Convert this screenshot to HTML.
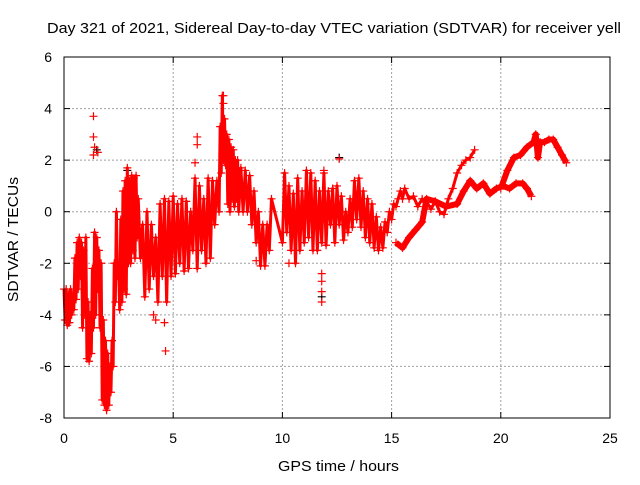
<!DOCTYPE html>
<html><head><meta charset="utf-8"><style>
body{margin:0;background:#fff;}
svg{font-family:"Liberation Sans",sans-serif;}
</style></head><body>
<svg id="chart" width="640" height="480" xmlns="http://www.w3.org/2000/svg">
<text x="47" y="33" font-size="15" textLength="574" lengthAdjust="spacingAndGlyphs">Day 321 of 2021, Sidereal Day-to-day VTEC variation (SDTVAR) for receiver yell</text>
<text x="278" y="471" font-size="15" textLength="121" lengthAdjust="spacingAndGlyphs">GPS time / hours</text>
<text transform="translate(18,302) rotate(-90)" font-size="15" textLength="125" lengthAdjust="spacingAndGlyphs">SDTVAR / TECUs</text>
<g id="grid"></g><g id="ticks"></g><g id="marks"></g>
<rect x="64" y="57" width="546" height="361" fill="none" stroke="#000" stroke-width="1"/>
</svg>
<script>
const xTicks=[0,5,10,15,20,25];
const yTicks=[-8,-6,-4,-2,0,2,4,6];
// main trace 0-15 h
const redT=[0,0.05,0.1,0.15,0.2,0.25,0.3,0.35,0.4,0.45,0.5,0.55,0.6,0.65,0.7,0.75,0.8,0.85,0.9,0.95,1.0,1.05,1.1,1.15,1.2,1.25,1.3,1.35,1.4,1.45,1.5,1.55,1.6,1.65,1.7,1.75,1.8,1.85,1.9,1.95,2.0,2.05,2.1,2.15,2.2,2.25,2.3,2.35,2.4,2.45,2.5,2.55,2.6,2.65,2.7,2.75,2.8,2.85,2.9,2.95,3.0,3.05,3.1,3.15,3.2,3.25,3.3,3.35,3.4,3.5,3.6,3.7,3.8,3.9,4.0,4.1,4.2,4.3,4.4,4.5,4.6,4.7,4.8,4.9,5.0,5.1,5.2,5.3,5.4,5.5,5.6,5.7,5.8,5.9,6.0,6.1,6.2,6.3,6.4,6.5,6.6,6.7,6.8,6.9,7.0,7.1,7.15,7.2,7.25,7.3,7.35,7.4,7.45,7.5,7.55,7.6,7.65,7.7,7.75,7.8,7.85,7.9,7.95,8.0,8.1,8.2,8.3,8.4,8.5,8.6,8.7,8.8,8.9,9.0,9.1,9.2,9.3,9.4,9.5,10.0,10.1,10.2,10.3,10.4,10.5,10.6,10.7,10.8,10.9,11.0,11.1,11.2,11.3,11.4,11.5,11.6,11.7,11.8,11.9,12.0,12.1,12.2,12.3,12.4,12.5,12.6,12.7,12.8,12.9,13.0,13.1,13.2,13.3,13.4,13.5,13.6,13.7,13.8,13.9,14.0,14.1,14.2,14.3,14.4,14.5,14.6,14.7,14.8,14.9,15.0,15.1,15.2,15.3,15.4,15.5,15.6,15.8,16.0,16.2,16.4,16.6,16.8,17.0,17.2,17.4,17.6,17.8,18.0,18.2,18.4,18.6,18.8,19.0,19.2,19.4];
const redV=[-3,-4.2,-3,-4.4,-3.2,-4.3,-3,-4,-3.2,-3.8,-1.8,-3.4,-1.2,-3,-1,-2.5,-1.2,-4.5,-1.5,-4,-1,-5.7,-3.5,-5.8,-4,-5.5,-2.2,-4.5,-0.8,-4,-1,-3,-1.5,-4.5,-2,-7.3,-4.2,-7.5,-5,-7.7,-5.5,-7.5,-6,-7,-5,-6,-2,-3.5,0,-2.5,-2.2,-3.8,-0.3,-3.5,0.8,-3,1.2,-3.2,1.7,-2,1.2,-2,1.4,-1.5,1.3,-1.8,1.4,-1,0.5,-1.8,-0.5,-3.3,0,-3,-0.5,-2.5,-1,-3.5,0.3,-2.5,0.5,-3.5,0.4,-2.5,0.6,-2.4,0.3,-2,0.5,-2.3,0.4,-2.2,0,-1.5,1.3,-2.2,1,-1.5,0.5,-2,1.3,-1.8,1.2,-0.5,1.2,0,3.3,1.5,4.5,2,3.6,1.8,3,0.3,2.8,0,2.5,0.5,2.4,0.2,2,0.5,2,0,1.7,0,1.6,0,1.4,-0.5,0.8,-1.2,0,-2.1,-0.5,-2.1,-0.5,-1.5,0.5,-1.2,1.5,-0.8,1,-1.5,0.7,-2,1.3,-1.5,0.8,-1.2,1.6,-1,1.5,-1.5,1.2,-1.5,0.8,-1.2,1.5,-1.3,0.8,-0.5,0.9,-1.2,1,-0.5,0.6,-1.1,0,-0.8,0.5,-0.6,1.2,-0.3,1.3,-0.6,0.8,-1,0.5,-1.2,0.3,-1.4,-0.2,-1.5,-0.6,-1.4,-0.4,-0.8,0,-0.3,0.3,0.2,0.5,0.8,0.5,0.9,0.5,0.6,0.2,0.5,0.4,0.1,0.4,0,-0.1,0.5,0.9,1.5,1.8,2,2.1,2.4];
// second band 15-21.4 h
const band2T=[15.2,15.5,15.8,16.1,16.4,16.6,17.0,17.5,18.0,18.3,18.6,18.9,19.2,19.5,19.8,20.1,20.4,20.7,21.0,21.2,21.4];
const band2V=[-1.2,-1.4,-1,-0.7,-0.4,0.5,0.4,0.2,0.3,0.8,1.2,0.9,1.1,0.7,0.9,1,0.9,1.1,1.1,0.9,0.6];
// third band 20-23 h
const band3T=[20.0,20.3,20.6,20.9,21.2,21.5,21.6,21.7,21.8,22.0,22.2,22.4,22.6,22.8,23.0];
const band3V=[0.9,1.6,2.1,2.2,2.5,2.7,3.0,2.1,2.7,2.7,2.8,2.8,2.5,2.2,1.9];
// isolated red points
const isoT=[1.35,1.35,1.35,1.4,1.55,6.1,6.1,6.0,7.3,7.3,11.8,11.8,11.8,11.8,4.1,4.2,4.6,4.65,12.6,8.8,10.3,11.9];
const isoV=[2.2,2.9,3.7,2.5,2.3,2.6,2.9,1.9,4.2,4.5,-2.4,-2.7,-3.1,-3.5,-4.0,-4.2,-4.3,-5.4,2.05,-1.9,-2.0,1.6];
const blackT=[1.5,2.9,12.6,11.8,0.2];
const blackV=[2.4,1.6,2.1,-3.3,-4.3];
const NS="http://www.w3.org/2000/svg";
const x0=64,x1=610,y0=418,y1=57;
function sx(t){return x0+(t-0)/(25-0)*(x1-x0);}
function sy(v){return y0-(v+8)/(14)*(y0-y1);}
const grid=document.getElementById('grid'),ticks=document.getElementById('ticks'),marks=document.getElementById('marks');
function mk(tag,attrs,parent){const e=document.createElementNS(NS,tag);for(const k in attrs)e.setAttribute(k,attrs[k]);parent.appendChild(e);return e;}
xTicks.forEach(t=>{const x=sx(t);
 if(t>0&&t<25){const g=mk('line',{x1:x,x2:x,y1:y0,y2:y1,stroke:'#a0a0a0','stroke-dasharray':'2,2'},grid);}
 mk('line',{x1:x,x2:x,y1:y0,y2:y0-6,stroke:'#000'},ticks);mk('line',{x1:x,x2:x,y1:y1,y2:y1+6,stroke:'#000'},ticks);
 const l=mk('text',{x:x,y:443,'font-size':14,'text-anchor':'middle'},ticks);l.textContent=t;
 });
yTicks.forEach(v=>{const y=sy(v);
 if(v>-8&&v<6){const g=mk('line',{x1:x0,x2:x1,y1:y,y2:y,stroke:'#a0a0a0','stroke-dasharray':'2,2'},grid);}
 mk('line',{x1:x0,x2:x0+6,y1:y,y2:y,stroke:'#000'},ticks);mk('line',{x1:x1,x2:x1-6,y1:y,y2:y,stroke:'#000'},ticks);
 const l=mk('text',{x:52,y:y+5,'font-size':14,'text-anchor':'end'},ticks);l.textContent=v;
 });
function plus(t,v,c,name){const x=sx(t),y=sy(v);
 const p=mk('path',{d:`M${x-4},${y}h8M${x},${y-4}v8`,stroke:c,'stroke-width':1.2},marks);
 }
blackT.forEach((t,i)=>plus(t,blackV[i],'#000','black-point'));
function trace(T,V,name,w){
 const pl=mk('polyline',{points:T.map((t,i)=>sx(t)+','+sy(V[i])).join(' '),fill:'none',stroke:'#ff0000','stroke-width':w,'stroke-linejoin':'round'},marks);
 
 
 T.forEach((t,i)=>plus(t,V[i],'#ff0000','red-point'));
}
trace(redT,redV,'red-main-trace',3);
trace(band2T,band2V,'red-lower-band',6);
trace(band3T,band3V,'red-upper-band',6);
isoT.forEach((t,i)=>plus(t,isoV[i],'#ff0000','red-isolated-point'));
</script>
</body></html>
